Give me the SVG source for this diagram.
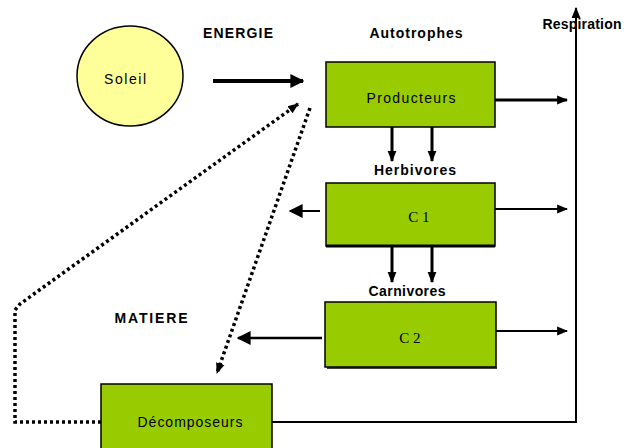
<svg xmlns="http://www.w3.org/2000/svg" width="627" height="448" viewBox="0 0 627 448">
  <style>
    .box { fill: #99cc00; stroke: #000; stroke-width: 1.5; }
    .lbl { font-family: "Liberation Sans", "DejaVu Sans", sans-serif; font-size: 14px; fill: #000; text-anchor: middle; }
    .bold { font-weight: bold; }
    .serif { font-family: "Liberation Serif", serif; font-size: 15px; }
    .flow { stroke: #000; fill: none; }
    .dots { stroke: #000; fill: none; stroke-width: 3.5; stroke-dasharray: 3 3; }
  </style>
  <defs>
    <marker id="head" viewBox="0 0 10 10" refX="9" refY="5" markerWidth="11" markerHeight="11" markerUnits="userSpaceOnUse" orient="auto">
      <path d="M0,1 L10,5 L0,9 z" fill="#000"/>
    </marker>
    <marker id="headBig" viewBox="0 0 10 10" refX="9" refY="5" markerWidth="14" markerHeight="14" markerUnits="userSpaceOnUse" orient="auto">
      <path d="M0,0 L10,5 L0,10 z" fill="#000"/>
    </marker>
  </defs>

  <rect width="627" height="448" fill="#fff"/>

  <!-- free labels -->
  <text class="lbl bold" x="238" y="38" textLength="70">ENERGIE</text>
  <text class="lbl bold" x="151" y="323" textLength="73">MATIERE</text>
  <text class="lbl bold" x="416" y="38" textLength="93">Autotrophes</text>
  <text class="lbl bold" x="415" y="175" textLength="82">Herbivores</text>
  <text class="lbl bold" x="407" y="296" textLength="77">Carnivores</text>
  <text class="lbl bold" x="582" y="29" textLength="79">Respiration</text>

  <g id="soleil">
    <ellipse cx="130" cy="76" rx="53" ry="50" fill="#ffff99" stroke="#000" stroke-width="1.5"/>
    <text class="lbl" x="125" y="84" textLength="42">Soleil</text>
  </g>

  <g id="producteurs">
    <rect class="box" x="326" y="62" width="169" height="65"/>
    <text class="lbl" x="411" y="103" textLength="89">Producteurs</text>
  </g>

  <g id="c1">
    <rect class="box" x="326" y="183" width="169" height="63"/>
    <line x1="326" y1="246" x2="495" y2="246" stroke="#000" stroke-width="3"/>
    <text class="lbl serif" x="419" y="222">C 1</text>
  </g>

  <g id="c2">
    <rect class="box" x="325" y="302" width="171" height="65"/>
    <line x1="327" y1="368" x2="497" y2="368" stroke="#000" stroke-width="1.5"/>
    <text class="lbl serif" x="410" y="343">C 2</text>
  </g>

  <g id="decomposeurs">
    <rect class="box" x="101" y="384" width="171" height="70"/>
    <text class="lbl" x="190" y="427" textLength="105">Décomposeurs</text>
  </g>

  <g id="connectors">
    <!-- energy input -->
    <line class="flow" x1="213" y1="81" x2="303" y2="81" stroke-width="4" marker-end="url(#headBig)"/>
    <!-- respiration outputs -->
    <line class="flow" x1="495" y1="100" x2="567" y2="100" stroke-width="3" marker-end="url(#head)"/>
    <line class="flow" x1="495" y1="209" x2="567" y2="209" stroke-width="2" marker-end="url(#head)"/>
    <line class="flow" x1="496" y1="331" x2="567" y2="331" stroke-width="2" marker-end="url(#head)"/>
    <polyline class="flow" points="272,422 576,422 576,8" stroke-width="2" marker-end="url(#head)"/>
    <!-- trophic transfers -->
    <line class="flow" x1="392" y1="127" x2="392" y2="161" stroke-width="3" marker-end="url(#head)"/>
    <line class="flow" x1="432" y1="127" x2="432" y2="161" stroke-width="3" marker-end="url(#head)"/>
    <line class="flow" x1="392" y1="246" x2="392" y2="282" stroke-width="3" marker-end="url(#head)"/>
    <line class="flow" x1="432" y1="246" x2="432" y2="282" stroke-width="3" marker-end="url(#head)"/>
    <!-- dead matter towards decomposers -->
    <line class="flow" x1="320" y1="211" x2="290" y2="211" stroke-width="2" marker-end="url(#headBig)"/>
    <line class="flow" x1="322" y1="338" x2="238" y2="338" stroke="#333" stroke-width="2.5" marker-end="url(#headBig)"/>
    <!-- mineral matter recycling -->
    <polyline class="dots" points="101,422 15,422 15,310 20,304 298,104" marker-end="url(#head)"/>
    <line class="dots" x1="310" y1="108" x2="217" y2="373" marker-end="url(#head)"/>
  </g>
</svg>
